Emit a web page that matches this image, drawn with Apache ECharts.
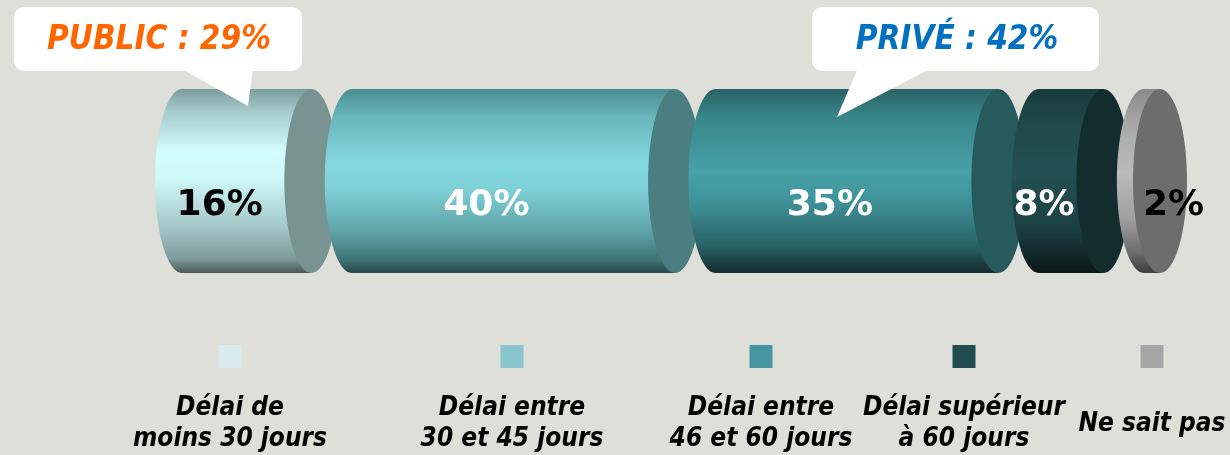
<!DOCTYPE html>
<html>
<head>
<meta charset="utf-8">
<script src="https://cdn.jsdelivr.net/npm/echarts@6/dist/echarts.min.js"></script>
<style>
html,body{margin:0;padding:0;background:#dfdfd9;}
#chart{width:1230px;height:455px;}
</style>
</head>
<body>
<div id="chart"></div>
<script>
// ---- data ----
const categories = ['Délai de\nmoins 30 jours', 'Délai entre\n30 et 45 jours', 'Délai entre\n46 et 60 jours', 'Délai supérieur\nà 60 jours', 'Ne sait pas'];
const values = [16, 40, 35, 8, 2];
const calloutNames = ['PUBLIC', 'PRIVÉ'];
const calloutValues = [29, 42];

// ---- styles ----
const GAP = 5;               // gap between cylinders, in axis units
const ELL_A = 27;            // ellipse half-width, px
const bodyStops = [
  [[0,'#799b9b'],[0.12,'#a6caca'],[0.35,'#d4ffff'],[0.5,'#cdf6f6'],[0.75,'#a4c7c7'],[0.92,'#7f9b9b'],[1,'#4b5858']],
  [[0,'#4c8c92'],[0.15,'#69b6bb'],[0.4,'#84d9e0'],[0.55,'#7dd0d6'],[0.8,'#5a9da1'],[0.93,'#3d7173'],[1,'#284748']],
  [[0,'#2b6266'],[0.15,'#388689'],[0.45,'#48a1a8'],[0.6,'#3f949a'],[0.85,'#296366'],[1,'#142b2c']],
  [[0,'#1a3c3e'],[0.2,'#1f4849'],[0.45,'#235153'],[0.75,'#1b4042'],[1,'#0b1819']],
  [[0,'#8a8a8a'],[0.2,'#a9a9a9'],[0.45,'#bbbbbb'],[0.7,'#a1a1a1'],[0.9,'#686868'],[1,'#3e3e3e']]
];
const capColors = ['#799292', '#4a7e80', '#275a5d', '#132c2d', '#6d6d6d'];
const labelColors = ['#000000', '#ffffff', '#ffffff', '#ffffff', '#000000'];
const legendColors = ['#d9ebee', '#8ac4cc', '#4596a0', '#214c50', '#a6a6a6'];
const legendX = [230, 512, 761, 964, 1152];
const LEG_FONT = 'italic bold 26px "DejaVu Sans Condensed", "DejaVu Sans", sans-serif';
const CALL_FONT = 'italic bold 33px "DejaVu Sans Condensed", "DejaVu Sans", sans-serif';

// ---- build segments ----
const segData = [];
let acc = 0;
values.forEach((v, i) => {
  const start = acc + i * GAP;
  segData.push([0, start, start + v, i]);
  acc += v;
});
const axisMax = acc + (values.length - 1) * GAP;

function renderItem(params, api) {
  const s = api.value(1), e = api.value(2), idx = api.value(3);
  const p0 = api.coord([s, 0]);
  const p1 = api.coord([e, 0]);
  const b = api.size([0, 1])[1] / 2;
  const cy = p0[1];
  const L = p0[0], R = p1[0], a = ELL_A;
  const body = 'M' + L + ',' + (cy - b) +
    ' A' + a + ',' + b + ' 0 0 0 ' + L + ',' + (cy + b) +
    ' L' + R + ',' + (cy + b) + ' L' + R + ',' + (cy - b) + ' Z';
  const cap = 'M' + R + ',' + (cy - b) +
    ' A' + a + ',' + b + ' 0 0 1 ' + R + ',' + (cy + b) +
    ' A' + a + ',' + b + ' 0 0 1 ' + R + ',' + (cy - b) + ' Z';
  const len = R - L;
  const lx = len < 2 * a ? R + a / 2 : (L + R) / 2 - a;
  return {
    type: 'group',
    children: [
      { type: 'path', shape: { pathData: body },
        style: { fill: new echarts.graphic.LinearGradient(0, 0, 0, 1,
          bodyStops[idx].map(st => ({ offset: st[0], color: st[1] }))) } },
      { type: 'path', shape: { pathData: cap }, style: { fill: capColors[idx] } },
      { type: 'text', z2: 10,
        style: { text: values[idx] + '%', x: lx, y: cy + 25, fill: labelColors[idx],
          font: 'bold 36px "DejaVu Sans", sans-serif', align: 'center', verticalAlign: 'middle' } }
    ]
  };
}

// ---- legend & callouts as graphics ----
const graphics = [];
categories.forEach((c, i) => {
  graphics.push({ type: 'rect', shape: { x: legendX[i] - 11.5, y: 345, width: 23, height: 23 },
    style: { fill: legendColors[i] } });
  graphics.push({ type: 'text', style: { text: c, x: legendX[i], y: 424, font: LEG_FONT,
    fill: '#000', align: 'center', verticalAlign: 'middle', lineHeight: 31 } });
});
const callouts = [
  { box: [14, 7, 288, 64], tri: [[180, 68], [253, 68], [248, 106]], tx: 159, color: '#ff6600' },
  { box: [812, 7, 287, 64], tri: [[858, 68], [932, 68], [837, 117]], tx: 957, color: '#0070c0' }
];
callouts.forEach((c, i) => {
  graphics.push({ type: 'polygon', z: 100, shape: { points: c.tri }, style: { fill: '#ffffff' } });
  graphics.push({ type: 'rect', z: 100, shape: { x: c.box[0], y: c.box[1], width: c.box[2], height: c.box[3], r: 10 },
    style: { fill: '#ffffff' } });
  graphics.push({ type: 'text', z: 101, style: { text: calloutNames[i] + ' : ' + calloutValues[i] + '%',
    x: c.tx, y: 40, font: CALL_FONT, fill: c.color, align: 'center', verticalAlign: 'middle' } });
});

const chart = echarts.init(document.getElementById('chart'));
chart.setOption({
  backgroundColor: '#dfdfd9',
  animation: false,
  grid: { left: 182, right: 70, top: 89, bottom: 182 },
  xAxis: { type: 'value', min: 0, max: axisMax, show: false },
  yAxis: { type: 'category', data: ['all'], show: false },
  series: [{
    type: 'custom',
    renderItem: renderItem,
    encode: { x: [1, 2], y: 0 },
    data: segData
  }],
  graphic: graphics
});
</script>
</body>
</html>
